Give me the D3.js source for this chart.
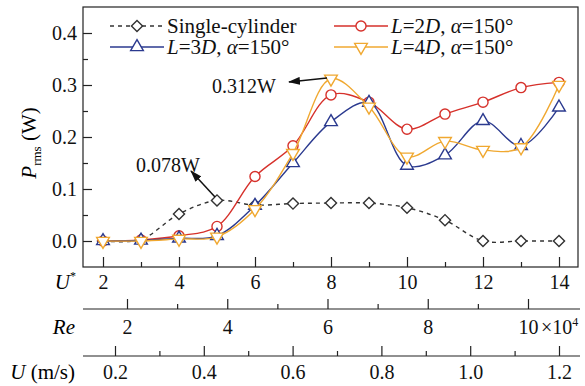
<!DOCTYPE html>
<html>
<head>
<meta charset="utf-8">
<script src="https://cdn.jsdelivr.net/npm/d3@7/dist/d3.min.js"></script>
<style>
  body { margin: 0; background: #fff; }
  svg { display: block; }
</style>
</head>
<body>
<svg id="chart" width="585" height="386"></svg>
<script>
// data
let uStar = [2, 3, 4, 5, 6, 7, 8, 9, 10, 11, 12, 13, 14];
let single = [0.000, 0.003, 0.052, 0.078, 0.069, 0.072, 0.073, 0.073, 0.064, 0.040, 0.000, 0.000, 0.000];
let l2d = [0.000, 0.002, 0.010, 0.028, 0.124, 0.183, 0.281, 0.267, 0.215, 0.244, 0.267, 0.295, 0.305];
let l3d = [0.000, 0.001, 0.005, 0.010, 0.068, 0.150, 0.229, 0.266, 0.145, 0.165, 0.231, 0.183, 0.257];
let l4d = [0.000, 0.000, 0.004, 0.008, 0.061, 0.169, 0.312, 0.258, 0.162, 0.192, 0.175, 0.180, 0.300];
let yTicks = [0.0, 0.1, 0.2, 0.3, 0.4];
let uStarTicks = [2, 4, 6, 8, 10, 12, 14];
let reTicks = [2, 4, 6, 8, 10];
let uTicks = [0.2, 0.4, 0.6, 0.8, 1.0, 1.2];

const FONT = 'Liberation Serif';

let svg = d3.select('#chart');
let frameL = 83, frameR = 578, frameT = 7, frameB = 267;

let x = d3.scaleLinear().domain([2, 14]).range([103, 559]);
let y = d3.scaleLinear().domain([0, 0.4]).range([241, 33]);
let xRe = d3.scaleLinear().domain([2, 10]).range([127, 528]);
let xU = d3.scaleLinear().domain([0.2, 1.2]).range([115, 559]);

let styleAxis = g => {
    g.attr('font-family', null).attr('font-size', null);
    g.select('.domain').remove();
    g.selectAll('line').attr('stroke', '#222').attr('stroke-width', 1.2);
    g.selectAll('text').attr('font-size', 20).attr('fill', '#111');
};

// frame
svg.append('rect')
    .attr('x', frameL).attr('y', frameT)
    .attr('width', frameR - frameL).attr('height', frameB - frameT)
    .attr('fill', 'none').attr('stroke', '#222').attr('stroke-width', 1.2);

// y axis, ticks pointing in
svg.append('g').attr('transform', `translate(${frameL},0)`)
    .call(d3.axisLeft(y).tickValues(yTicks).tickFormat(d3.format('.1f')).tickSize(-9).tickPadding(6))
    .call(styleAxis);
svg.append('g').attr('transform', `translate(${frameL},0)`)
    .call(d3.axisLeft(y).tickValues([0.05, 0.15, 0.25, 0.35]).tickFormat('').tickSize(-5))
    .call(styleAxis);

// U* axis on the frame bottom
svg.append('g').attr('transform', `translate(0,${frameB})`)
    .call(d3.axisBottom(x).tickValues(uStarTicks).tickFormat(d3.format('d')).tickSize(-10).tickPadding(8))
    .call(styleAxis);
svg.append('g').attr('transform', `translate(0,${frameB})`)
    .call(d3.axisBottom(x).tickValues([3, 5, 7, 9, 11, 13]).tickFormat('').tickSize(-5))
    .call(styleAxis);

// Re axis
let reY = 309;
svg.append('line').attr('x1', frameL).attr('x2', 580).attr('y1', reY).attr('y2', reY)
    .attr('stroke', '#222').attr('stroke-width', 1.2);
svg.append('g').attr('transform', `translate(0,${reY})`)
    .call(d3.axisBottom(xRe).tickValues(reTicks).tickFormat(d3.format('d')).tickSize(-10).tickPadding(11))
    .call(styleAxis);
svg.append('g').attr('transform', `translate(0,${reY})`)
    .call(d3.axisBottom(xRe).tickValues([3, 5, 7, 9]).tickFormat('').tickSize(-5))
    .call(styleAxis);
let reExp = svg.append('text').attr('x', 541).attr('y', reY + 11 + 14)
    .attr('font-size', 20).attr('fill', '#111');
reExp.append('tspan').text('\u00d710');
reExp.append('tspan').attr('font-size', 12).attr('dy', -8).text('4');

// U axis
let uY = 356;
svg.append('line').attr('x1', frameL).attr('x2', 580).attr('y1', uY).attr('y2', uY)
    .attr('stroke', '#222').attr('stroke-width', 1.2);
svg.append('g').attr('transform', `translate(0,${uY})`)
    .call(d3.axisBottom(xU).tickValues(uTicks).tickFormat(d3.format('.1f')).tickSize(-10).tickPadding(9))
    .call(styleAxis);
svg.append('g').attr('transform', `translate(0,${uY})`)
    .call(d3.axisBottom(xU).tickValues([0.3, 0.5, 0.7, 0.9, 1.1]).tickFormat('').tickSize(-5))
    .call(styleAxis);

// axis row titles
let t1 = svg.append('text').attr('x', 76).attr('y', 289).attr('text-anchor', 'end').attr('font-size', 21);
t1.append('tspan').attr('font-style', 'italic').text('U');
t1.append('tspan').attr('font-size', 12).attr('dy', -9).text('*');
svg.append('text').attr('x', 75).attr('y', 334).attr('text-anchor', 'end').attr('font-size', 21)
    .attr('font-style', 'italic').text('Re');
let t3 = svg.append('text').attr('x', 75).attr('y', 379).attr('text-anchor', 'end').attr('font-size', 21);
t3.append('tspan').attr('font-style', 'italic').text('U');
t3.append('tspan').text(' (m/s)');

// y title
let yt = svg.append('text').attr('transform', 'translate(36,143) rotate(-90)')
    .attr('text-anchor', 'middle').attr('font-size', 21);
yt.append('tspan').attr('font-style', 'italic').text('P');
yt.append('tspan').attr('font-size', 13).attr('dy', 5).text('rms');
yt.append('tspan').attr('dy', -5).text(' (W)');

// series
let series = [
    {name: 'single', values: single, color: '#333', dash: '4,4', shape: 'diamond'},
    {name: 'l2d', values: l2d, color: '#d6312b', dash: null, shape: 'circle'},
    {name: 'l3d', values: l3d, color: '#2b3a8f', dash: null, shape: 'up'},
    {name: 'l4d', values: l4d, color: '#f0a830', dash: null, shape: 'down'}
];

let line = d3.line()
    .x((d, i) => x(uStar[i]))
    .y(d => y(d))
    .curve(d3.curveCatmullRom.alpha(0.5));

let symbolPath = shape => {
    if (shape === 'circle') return d3.symbol(d3.symbolCircle, 80)();
    if (shape === 'diamond') return d3.symbol(d3.symbolSquare, 62)();
    return d3.symbol(d3.symbolTriangle, 70)();
};
let symbolRotate = shape => shape === 'diamond' ? 45 : (shape === 'down' ? 180 : 0);

let drawMarker = (g, s, cx, cy) => {
    g.append('path')
        .attr('d', symbolPath(s.shape))
        .attr('transform', `translate(${cx},${cy}) rotate(${symbolRotate(s.shape)})`)
        .attr('fill', '#fff')
        .attr('stroke', s.color)
        .attr('stroke-width', 1.4);
};

series.forEach(s => {
    let g = svg.append('g');
    g.append('path')
        .attr('d', line(s.values))
        .attr('fill', 'none')
        .attr('stroke', s.color)
        .attr('stroke-width', 1.4)
        .attr('stroke-dasharray', s.dash);
    s.values.forEach((v, i) => drawMarker(g, s, x(uStar[i]), y(v)));
});

// legend
let legendItems = [
    {s: series[0], lx: 110, ly: 26, parts: [['Single-cylinder', false]]},
    {s: series[2], lx: 110, ly: 47, parts: [['L', true], ['=3', false], ['D', true], [', ', false], ['\u03b1', true], ['=150\u00b0', false]]},
    {s: series[1], lx: 334, ly: 26, parts: [['L', true], ['=2', false], ['D', true], [', ', false], ['\u03b1', true], ['=150\u00b0', false]]},
    {s: series[3], lx: 334, ly: 47, parts: [['L', true], ['=4', false], ['D', true], [', ', false], ['\u03b1', true], ['=150\u00b0', false]]}
];
legendItems.forEach(item => {
    let g = svg.append('g');
    g.append('line')
        .attr('x1', item.lx).attr('x2', item.lx + 54)
        .attr('y1', item.ly).attr('y2', item.ly)
        .attr('stroke', item.s.color).attr('stroke-width', 1.4)
        .attr('stroke-dasharray', item.s.dash);
    drawMarker(g, item.s, item.lx + 27, item.ly);
    let t = g.append('text').attr('x', item.lx + 57).attr('y', item.ly + 7).attr('font-size', 21).attr('fill', '#111');
    item.parts.forEach(p => {
        t.append('tspan').attr('font-style', p[1] ? 'italic' : 'normal').text(p[0]);
    });
});

// annotations
svg.append('defs').append('marker')
    .attr('id', 'arrow').attr('viewBox', '0 0 12 8')
    .attr('refX', 11).attr('refY', 4)
    .attr('markerWidth', 12).attr('markerHeight', 8)
    .attr('markerUnits', 'userSpaceOnUse')
    .attr('orient', 'auto')
    .append('path').attr('d', 'M0,0 L12,4 L0,8 Z').attr('fill', '#111');

svg.append('line').attr('x1', 327).attr('y1', 78).attr('x2', 289).attr('y2', 82)
    .attr('stroke', '#111').attr('stroke-width', 1.5).attr('marker-end', 'url(#arrow)');
svg.append('text').attr('x', 212).attr('y', 93).attr('font-size', 20).attr('fill', '#111').text('0.312W');

svg.append('line').attr('x1', 215).attr('y1', 197).attr('x2', 191).attr('y2', 171)
    .attr('stroke', '#111').attr('stroke-width', 1.5).attr('marker-end', 'url(#arrow)');
svg.append('text').attr('x', 136).attr('y', 172).attr('font-size', 20).attr('fill', '#111').text('0.078W');

// serif font set on every text element directly
svg.selectAll('text').style('font-family', `"${FONT}"`);
</script>
</body>
</html>
